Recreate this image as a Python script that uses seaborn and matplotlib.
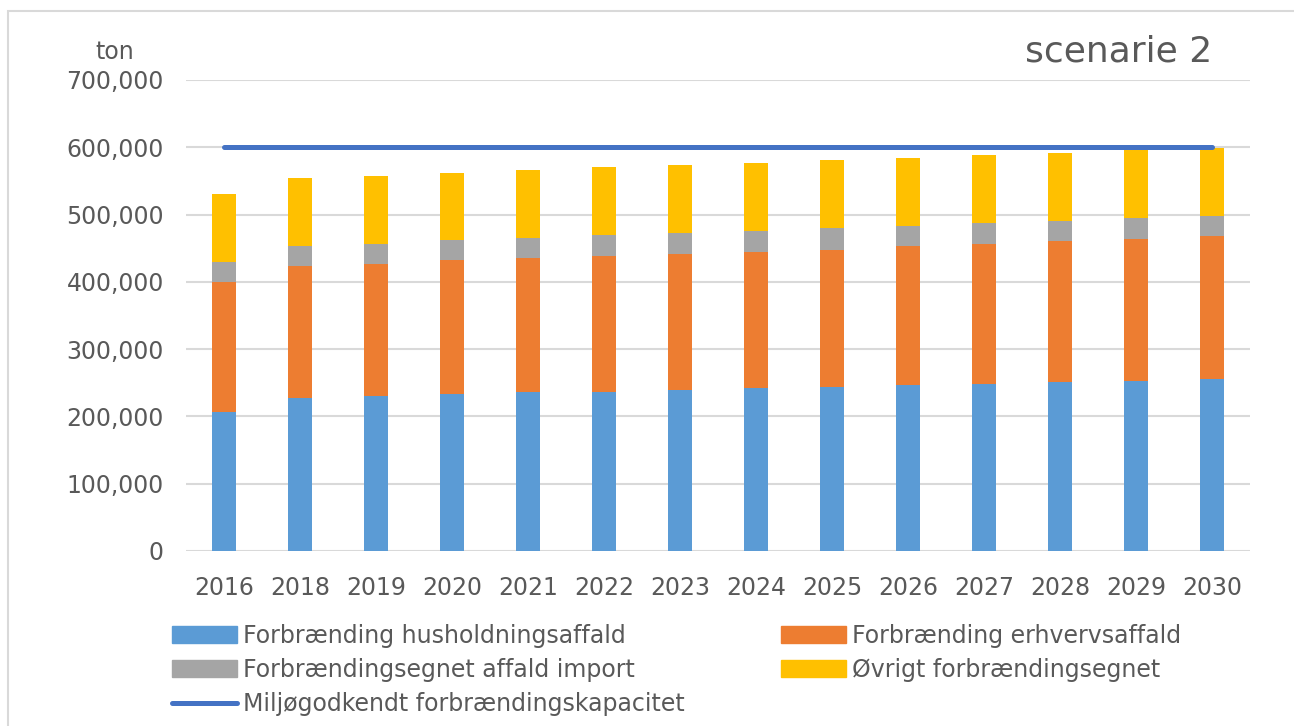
import numpy as np
import pandas as pd
import matplotlib
matplotlib.use("Agg")
import matplotlib.pyplot as plt
import seaborn as sns
from matplotlib.patches import Rectangle, Patch
from matplotlib.lines import Line2D
from matplotlib.ticker import FuncFormatter

years = ["2016", "2018", "2019", "2020", "2021", "2022", "2023", "2024",
         "2025", "2026", "2027", "2028", "2029", "2030"]
husholdning = [207000, 228000, 231000, 233000, 236000, 237000, 239000, 242000,
               243000, 246000, 248000, 251000, 252000, 255000]
erhverv = [193000, 196000, 196000, 199000, 199000, 201000, 203000, 203000,
           205000, 207000, 208000, 209000, 211000, 213000]
importaffald = [30000, 30000, 30000, 30000, 30000, 31000, 30000, 30000,
                32000, 30000, 31000, 30000, 32000, 30000]
oevrigt = [100000, 101000, 101000, 100000, 101000, 101000, 101000, 101000,
           101000, 101000, 101000, 101000, 101000, 101000]
kapacitet = [600000] * 14

labels = ["Forbrænding husholdningsaffald", "Forbrænding erhvervsaffald",
          "Forbrændingsegnet affald import", "Øvrigt forbrændingsegnet",
          "Miljøgodkendt forbrændingskapacitet"]
colors = ["#5B9BD5", "#ED7D31", "#A5A5A5", "#FFC000"]
line_color = "#4472C4"
text_color = "#595959"

sns.set_theme(style="white")
plt.rcParams["font.family"] = ["DejaVu Sans"]

df = pd.DataFrame({"year": years, "h": husholdning, "e": erhverv,
                   "i": importaffald, "o": oevrigt, "k": kapacitet})
df["c1"] = df["h"]
df["c2"] = df["c1"] + df["e"]
df["c3"] = df["c2"] + df["i"]
df["c4"] = df["c3"] + df["o"]

fig = plt.figure(figsize=(12.94, 7.26), dpi=100)
ax = fig.add_axes([186 / 1294, (726 - 551) / 726, (1250 - 186) / 1294, (551 - 80) / 726])

bw = 0.32
for col, c in zip(["c4", "c3", "c2", "c1"], colors[::-1]):
    sns.barplot(data=df, x="year", y=col, color=c, width=bw, ax=ax,
                saturation=1, linewidth=0, zorder=3)

ax.plot(np.arange(len(years)), df["k"], color=line_color, lw=3.6,
        solid_capstyle="round", zorder=4)

ax.set_ylim(0, 700000)
ax.set_xlim(-0.5, len(years) - 0.5)
ax.set_yticks(np.arange(0, 700001, 100000))
ax.yaxis.set_major_formatter(FuncFormatter(lambda v, p: f"{int(v):,}"))
ax.grid(axis="y", color="#D9D9D9", lw=1.5, zorder=0)
ax.grid(axis="x", visible=False)
for s in ax.spines.values():
    s.set_visible(False)
ax.tick_params(axis="both", length=0, labelsize=17, colors=text_color)
ax.tick_params(axis="y", pad=16)
ax.tick_params(axis="x", pad=18)
ax.set_xlabel("")
ax.set_ylabel("")

fig.text(115 / 1294, 1 - 52 / 726, "ton", fontsize=17, color=text_color,
         ha="center", va="center")
fig.text(1212 / 1294, 1 - 52 / 726, "scenarie 2", fontsize=26, color=text_color,
         ha="right", va="center")

handles = [Patch(color=colors[0]), Patch(color=colors[2]),
           Line2D([], [], color=line_color, lw=3.6, solid_capstyle="round"),
           Patch(color=colors[1]), Patch(color=colors[3])]
hl = [labels[0], labels[2], labels[4], labels[1], labels[3]]
leg = fig.legend(handles, hl, ncol=2, loc="upper left",
                 bbox_to_anchor=(172 / 1294, 1 - 624 / 726), frameon=False,
                 fontsize=17, handlelength=2.75, handleheight=0.7,
                 handletextpad=0.25, labelspacing=0.42, columnspacing=4.1,
                 borderaxespad=0, borderpad=0)
for t in leg.get_texts():
    t.set_color(text_color)

fig.patches.append(Rectangle((8 / 1294, -0.1), 1.2, 1.1 - 11 / 726,
                             transform=fig.transFigure, fill=False,
                             edgecolor="#D9D9D9", lw=1.5))

fig.savefig("out.png", dpi=100)
